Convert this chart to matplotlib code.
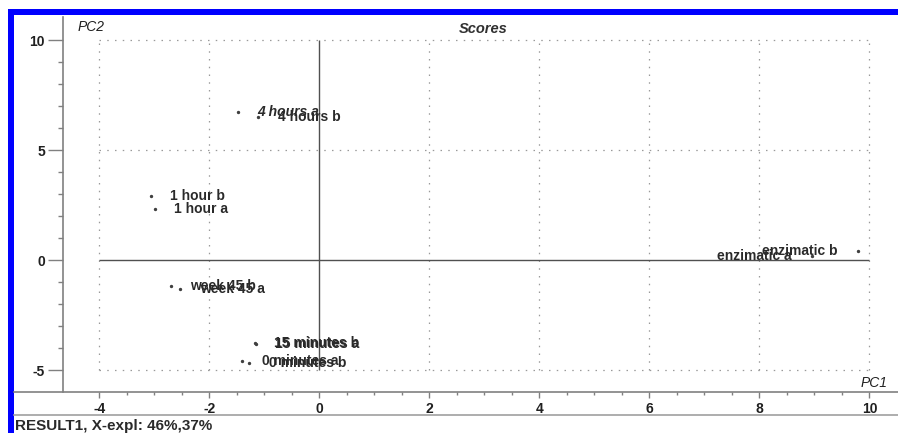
import numpy as np
import matplotlib.pyplot as plt
from matplotlib.lines import Line2D
from matplotlib.patches import Rectangle

plt.rcParams['font.family'] = ['Liberation Sans', 'DejaVu Sans']
plt.rcParams['axes.unicode_minus'] = False

# PCA scores (PC1, PC2)
names = ["4 hours a", "4 hours b", "1 hour b", "1 hour a",
         "week 45 b", "week 45 a", "15 minutes a", "15 minutes b",
         "0 minutes a", "0 minutes b", "enzimatic a", "enzimatic b"]
pc1 = np.array([-1.48, -1.11, -3.06, -2.99, -2.70, -2.53,
                -1.16, -1.17, -1.40, -1.27, 8.96, 9.79])
pc2 = np.array([6.73, 6.50, 2.92, 2.32, -1.18, -1.32,
                -3.80, -3.79, -4.59, -4.67, 0.18, 0.42])

x_grid = [-4, -2, 2, 4, 6, 8, 10]
y_grid = [-5, 5, 10]
x_ticks = [-4, -2, 0, 2, 4, 6, 8, 10]
y_ticks = [-5, 0, 5, 10]
footer = "RESULT1, X-expl: 46%,37%"

W, H = 898, 433
fig = plt.figure(figsize=(W / 100, H / 100), dpi=100)

def fx(px):
    return px / W

def fy(py):
    return 1 - py / H

ax = fig.add_axes([fx(63), fy(392), 1 - fx(63), fy(17) - fy(392)])
ax.set_xlim(-4.66, 10.52)
ax.set_ylim(-6.0, 11.05)

for s in ['top', 'right', 'bottom']:
    ax.spines[s].set_visible(False)
ax.spines['left'].set_color('#808080')
ax.spines['left'].set_linewidth(1.2)

# dotted grid
ax.vlines(x_grid, -5, 10, colors='#9a9a9a', linestyles=(0, (1.2, 5)), linewidth=0.9)
ax.hlines(y_grid, -4, 10, colors='#9a9a9a', linestyles=(0, (1.2, 5)), linewidth=0.9)
# zero lines
ax.vlines([0], -5, 10, colors='#505050', linewidth=1.0)
ax.hlines([0], -4, 10, colors='#505050', linewidth=1.0)

ax.scatter(pc1, pc2, s=2, color='#404040', zorder=3)
for name, x, y in zip(names, pc1, pc2):
    right = x > 8
    ax.annotate(name, (x, y), xytext=(-15 if right else 14, 0),
                textcoords='offset points', ha='right' if right else 'left',
                va='center', fontsize=10, color='#2a2a2a', fontweight='bold',
                style='italic' if name == "4 hours a" else 'normal', zorder=4)

ax.set_xticks(x_ticks)
ax.set_xticks(np.arange(-4, 10.01, 0.5), minor=True)
ax.set_yticks(y_ticks)
ax.set_yticks(np.arange(-5, 10.01, 1), minor=True)
ax.tick_params(axis='x', which='major', direction='out', length=4.5, width=1,
               color='#808080', pad=3, labelsize=10, labelcolor='#202020')
ax.tick_params(axis='x', which='minor', direction='out', length=2.2, width=1,
               color='#808080')
ax.tick_params(axis='y', which='major', direction='out', length=11, width=1,
               color='#808080', pad=2, labelsize=10, labelcolor='#202020')
ax.tick_params(axis='y', which='minor', direction='out', length=3.6, width=1,
               color='#808080')
for lab in ax.get_xticklabels() + ax.get_yticklabels():
    lab.set_fontweight('bold')

# axis lines across the frame
fig.add_artist(Line2D([fx(14), 1], [fy(392), fy(392)], color='#808080', lw=1.2))
fig.add_artist(Line2D([fx(14), 1], [fy(415), fy(415)], color='#a0a0a0', lw=1.2))

fig.text(fx(78), fy(27), "PC2", fontsize=10, style='italic', color='#202020', va='center')
fig.text(fx(459), fy(29), "Scores", fontsize=10.5, style='italic', fontweight='bold',
         color='#303030', va='center')
fig.text(fx(861), fy(383), "PC1", fontsize=10, style='italic', color='#202020', va='center')
fig.text(fx(15), fy(426), footer, fontsize=11, fontweight='bold', color='#2a2a2a',
         va='center')

# blue window frame
fig.add_artist(Rectangle((fx(8), fy(15)), 1 - fx(8), fy(9) - fy(15),
                         transform=fig.transFigure, color='#0000ff', lw=0))
fig.add_artist(Rectangle((fx(8), 0), fx(14) - fx(8), fy(9),
                         transform=fig.transFigure, color='#0000ff', lw=0))

fig.savefig('out.png', dpi=100)
